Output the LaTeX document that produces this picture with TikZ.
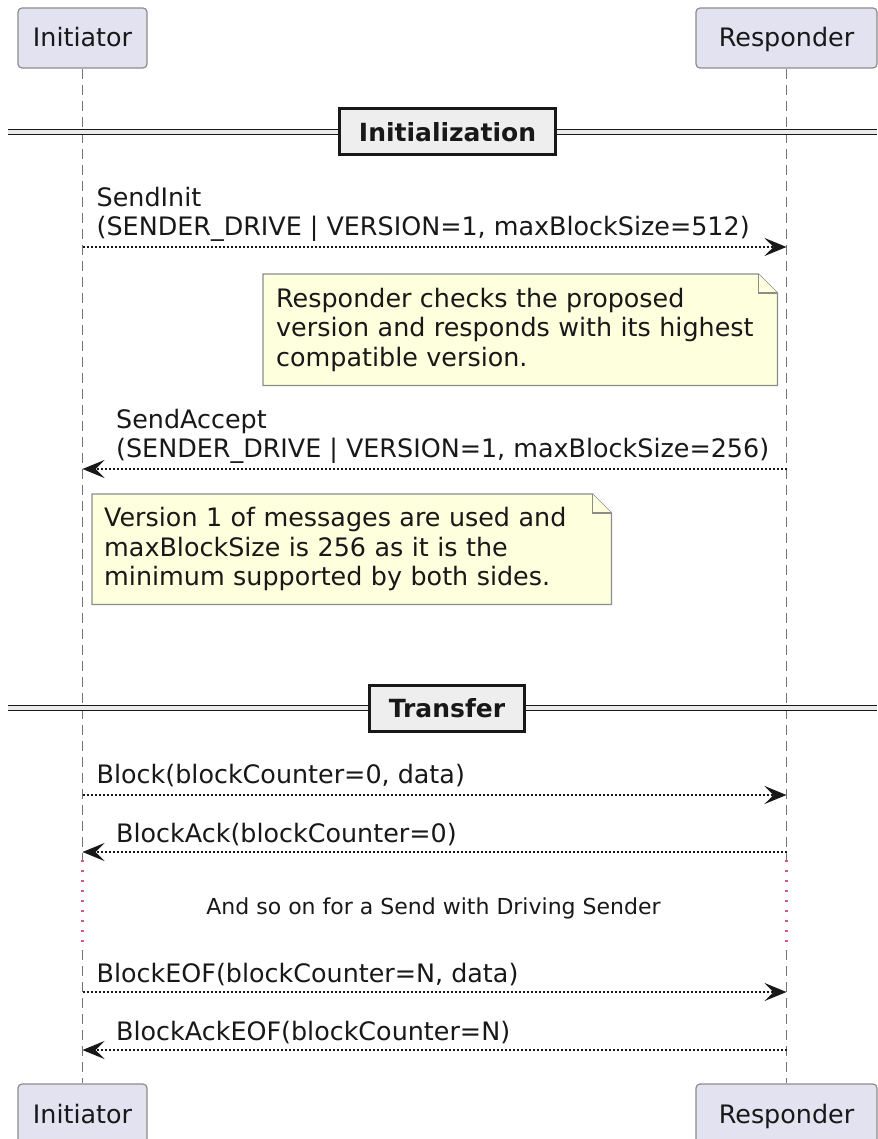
\documentclass[tikz,border=0pt]{standalone}
\usepackage{fontspec}
\setmainfont{DejaVu Sans}
\usepackage{xcolor}
\usepackage{tikz}
\usetikzlibrary{arrows.meta, positioning, backgrounds}

\definecolor{partfill}{HTML}{E2E2F0}
\definecolor{notefill}{HTML}{FEFFDD}
\definecolor{sectfill}{HTML}{EEEEEE}
\definecolor{ink}{HTML}{181818}
\definecolor{delaydot}{HTML}{D8558A}

\begin{document}
\begin{tikzpicture}[
  x=1pt, y=-1pt,
  font=\fontsize{25.4}{29.5}\selectfont,
  part/.style={
    rectangle, rounded corners=4pt, draw=black!45, fill=partfill,
    minimum height=60pt, inner sep=0pt, line width=1.2pt, text=ink,
    text height=19pt, text depth=1pt
  },
  life/.style={draw=black!55, dash pattern=on 10pt off 6pt, line width=1.2pt},
  delayline/.style={draw=delaydot, dash pattern=on 2pt off 8pt, line width=2.2pt},
  sepline/.style={draw=ink, line width=1.6pt, double=black!8, double distance=3.5pt},
  sect/.style={
    rectangle, draw=ink, fill=sectfill, line width=3pt, text=ink,
    minimum height=46pt, inner xsep=19pt,
    font=\fontsize{25}{29.5}\selectfont\bfseries
  },
  msg/.style={-{Stealth[length=22pt, width=18pt, inset=9pt]}, draw=ink,
    dash pattern=on 2pt off 2pt, line width=1.5pt},
  lbl/.style={inner sep=0pt, align=left, text=ink},
  note/.style={rectangle, inner xsep=13pt, inner ysep=0pt, align=left, text=ink},
  notebox/.style={draw=black!45, fill=notefill, line width=1.2pt}
]
\useasboundingbox (0,0) rectangle (877,1139);

% === Participants ===
\node[part, minimum width=129pt] (iTop) at (82.5,38) {Initiator};
\node[part, minimum width=181pt] (rTop) at (786.5,38) {Responder};
\node[part, minimum width=129pt] (iBot) at (82.5,1114) {Initiator};
\node[part, minimum width=181pt] (rBot) at (786.5,1114) {Responder};

% === Lifelines (broken by the delay) ===
\coordinate (dTop) at (0,860);
\coordinate (dBot) at (0,950);
\draw[life] (iTop) -- (iTop |- dTop);
\draw[life] (rTop) -- (rTop |- dTop);
\draw[delayline] (iTop |- dTop) -- (iTop |- dBot);
\draw[delayline] (rTop |- dTop) -- (rTop |- dBot);
\draw[life] (iTop |- dBot) -- (iBot);
\draw[life] (rTop |- dBot) -- (rBot);

% === Section dividers ===
\coordinate (edgeL) at (8,0);
\coordinate (edgeR) at (877,0);

\node[sect] (secInit) at (447.5,132) {Initialization};
\draw[sepline] (secInit.west -| edgeL) -- (secInit.west);
\draw[sepline] (secInit.east) -- (secInit.east -| edgeR);

\node[sect] (secXfer) at (447,708) {Transfer};
\draw[sepline] (secXfer.west -| edgeL) -- (secXfer.west);
\draw[sepline] (secXfer.east) -- (secXfer.east -| edgeR);

% === Messages ===
\coordinate (m1) at (0,247);
\coordinate (m2) at (0,469);
\coordinate (m3) at (0,795);
\coordinate (m4) at (0,852);
\coordinate (m5) at (0,992);
\coordinate (m6) at (0,1050);

\draw[msg] (iTop |- m1) -- (rTop |- m1);
\node[lbl, anchor=south west] (lSendInit) at ([xshift=14pt, yshift=5pt]iTop |- m1)
  {SendInit\\(SENDER\_DRIVE | VERSION=1, maxBlockSize=512)};

\draw[msg] (rTop |- m2) -- (iTop |- m2);
\node[lbl, anchor=south west] (lSendAccept) at ([xshift=33.5pt, yshift=5pt]iTop |- m2)
  {SendAccept\\(SENDER\_DRIVE | VERSION=1, maxBlockSize=256)};

\draw[msg] (iTop |- m3) -- (rTop |- m3);
\node[lbl, anchor=base west] (lBlock) at ([xshift=14pt, yshift=12pt]iTop |- m3)
  {Block(blockCounter=0, data)};

\draw[msg] (rTop |- m4) -- (iTop |- m4);
\node[lbl, anchor=base west] (lBlockAck) at ([xshift=33.5pt, yshift=10pt]iTop |- m4)
  {BlockAck(blockCounter=0)};

\draw[msg] (iTop |- m5) -- (rTop |- m5);
\node[lbl, anchor=base west] (lBlockEOF) at ([xshift=14pt, yshift=10pt]iTop |- m5)
  {BlockEOF(blockCounter=N, data)};

\draw[msg] (rTop |- m6) -- (iTop |- m6);
\node[lbl, anchor=base west] (lBlockAckEOF) at ([xshift=33.5pt, yshift=10pt]iTop |- m6)
  {BlockAckEOF(blockCounter=N)};

% === Delay ===
\node[font=\fontsize{22}{26}\selectfont, text=ink] (delayTxt) at (433.5,908)
  {And so on for a Send with Driving Sender};

% === Notes ===
\node[note, text width=488pt, minimum height=111pt, anchor=north west] (note1) at (263,274)
  {Responder checks the proposed\\version and responds with its highest\\compatible version.};
\node[note, text width=495pt, inner xsep=12pt, minimum height=110pt, anchor=north west] (note2) at (92,494)
  {Version 1 of messages are used and\\maxBlockSize is 256 as it is the\\minimum supported by both sides.};

\begin{pgfonlayer}{background}
\foreach \n in {note1, note2} {
  \draw[notebox] (\n.south west) -- (\n.north west) -- ([xshift=-19pt]\n.north east)
    -- ([yshift=-19pt]\n.north east) -- (\n.south east) -- cycle;
  \draw[notebox] ([xshift=-19pt]\n.north east) -- ([xshift=-19pt, yshift=-19pt]\n.north east)
    -- ([yshift=-19pt]\n.north east);
}
\end{pgfonlayer}

\end{tikzpicture}
\end{document}
